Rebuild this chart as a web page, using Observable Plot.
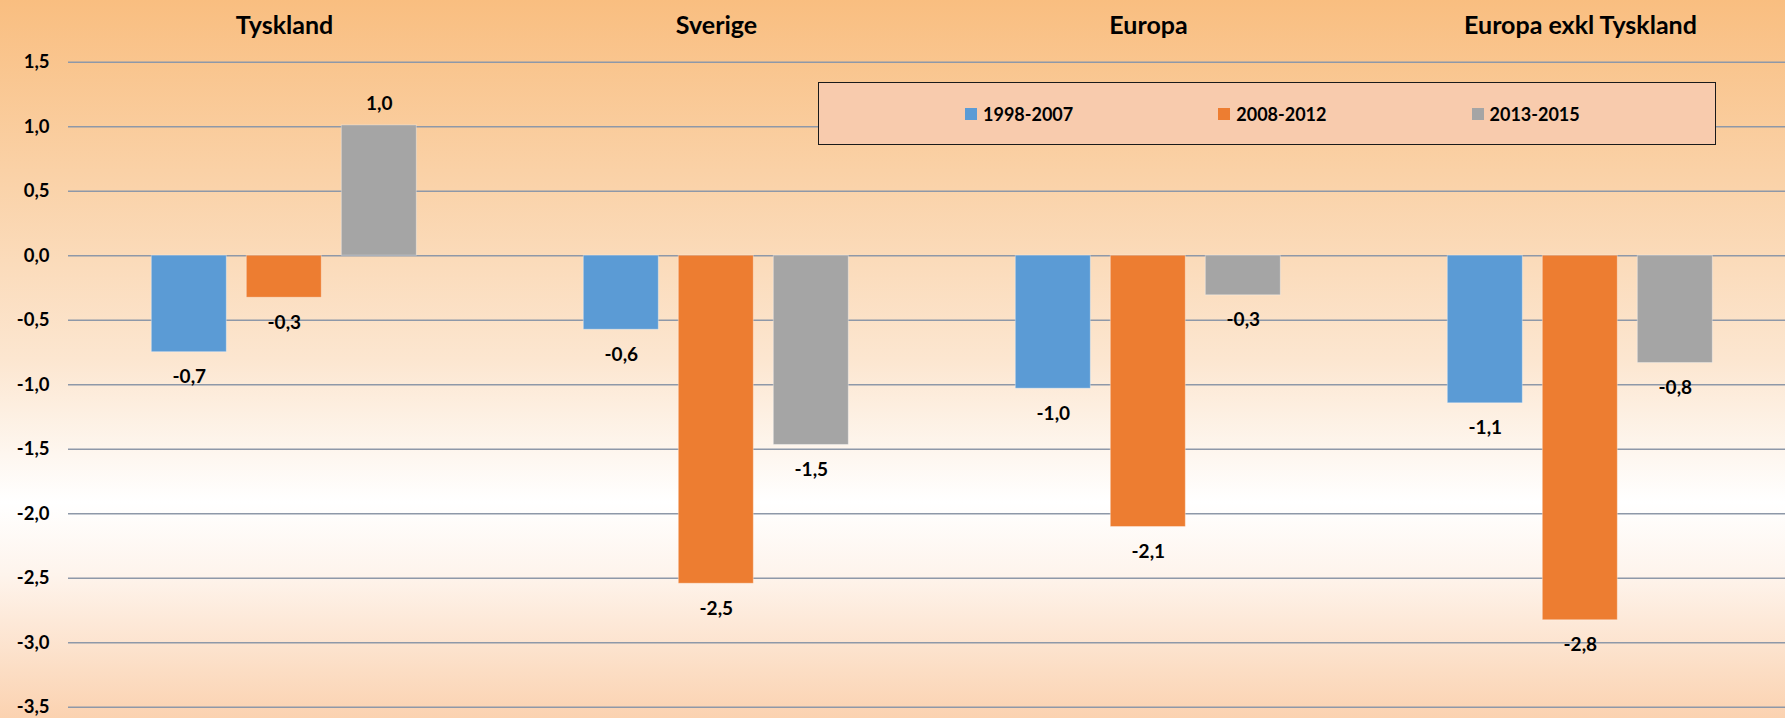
<!DOCTYPE html>
<html>
<head>
<meta charset="utf-8">
<script src="https://cdn.jsdelivr.net/npm/d3@7"></script>
<script src="https://cdn.jsdelivr.net/npm/@observablehq/plot@0.6"></script>
<style>
  html, body { margin: 0; padding: 0; }
  #wrap {
    position: relative; width: 1785px; height: 718px; overflow: hidden;
    background: linear-gradient(to bottom, #F9BE80 0%, #FAD2A8 25%, #FCE6D0 50%, #FFFFFF 70%, #FEF4EC 80%, #FBD2B0 100%);
    font-family: Lato, "Open Sans", sans-serif;
  }
  #wrap svg { background: transparent !important; position: absolute; left: 0; top: 0; }
  #legend {
    position: absolute; left: 818px; top: 82px; width: 898px; height: 63px;
    background: #F8CBAD; border: 1.6px solid #1a1a1a;
    display: flex; align-items: center; justify-content: flex-start; gap: 145px;
    font-weight: bold; font-size: 18px; color: #000; padding-left: 146px; box-sizing: border-box;
  }
  #legend .item { display: flex; align-items: center; }
  #legend .sw { width: 12px; height: 12px; margin-right: 6px; }
</style>
</head>
<body>
<div id="wrap"><div id="legend"></div></div>
<script>
const countries = ["Tyskland", "Sverige", "Europa", "Europa exkl Tyskland"];
const periods = ["1998-2007", "2008-2012", "2013-2015"];
const colors = ["#5B9BD5", "#ED7D31", "#A5A5A5"];
const v1998_2007 = [-0.748, -0.574, -1.031, -1.144];
const v2008_2012 = [-0.326, -2.543, -2.103, -2.826];
const v2013_2015 = [1.01, -1.467, -0.307, -0.832];
const yTicks = [1.5, 1.0, 0.5, 0.0, -0.5, -1.0, -1.5, -2.0, -2.5, -3.0, -3.5];

const series = [v1998_2007, v2008_2012, v2013_2015];
const data = [];
countries.forEach((c, i) => periods.forEach((p, j) => data.push({country: c, period: p, value: series[j][i]})));

const fmt = d => d.toFixed(1).replace(".", ",");

const chart = Plot.plot({
  width: 1785,
  height: 718,
  marginLeft: 66.7,
  marginRight: -12.8,
  marginTop: 61.7,
  marginBottom: 11.3,
  style: {background: "transparent", fontFamily: "Lato, 'Open Sans', sans-serif", fontSize: "18.5px", fontWeight: "bold", color: "#000"},
  fx: {domain: countries, padding: 0, axis: null},
  x: {domain: periods, paddingInner: 0.214, paddingOuter: 0.861, axis: null},
  y: {domain: [-3.5, 1.5], ticks: yTicks, tickFormat: fmt, tickSize: 0, tickPadding: 19, label: null},
  color: {domain: periods, range: colors},
  marks: [
    Plot.ruleY(yTicks, {stroke: "#8E98A8", strokeWidth: 1.6}),
    Plot.barY(data, {fx: "country", x: "period", y: "value", fill: "period", stroke: "rgba(255,255,255,0.35)", strokeWidth: 1}),
    Plot.text(data.filter(d => d.value < 0), {fx: "country", x: "period", y: "value", text: d => fmt(d.value), dy: 25, fontSize: 19, fontWeight: "bold", fill: "#000"}),
    Plot.text(data.filter(d => d.value >= 0), {fx: "country", x: "period", y: "value", text: d => fmt(d.value), dy: -21.5, fontSize: 19, fontWeight: "bold", fill: "#000"}),
    Plot.text(countries, {fx: d => d, frameAnchor: "top", lineAnchor: "middle", dy: -36, text: d => d, fontSize: 25, fontWeight: "bold", fill: "#000"})
  ]
});
document.getElementById("wrap").appendChild(chart);

const legend = document.getElementById("legend");
periods.forEach((p, i) => {
  const item = document.createElement("div");
  item.className = "item";
  const sw = document.createElement("span");
  sw.className = "sw";
  sw.style.background = colors[i];
  const t = document.createElement("span");
  t.textContent = p;
  item.appendChild(sw); item.appendChild(t);
  legend.appendChild(item);
});
document.getElementById("wrap").appendChild(legend);
</script>
</body>
</html>
